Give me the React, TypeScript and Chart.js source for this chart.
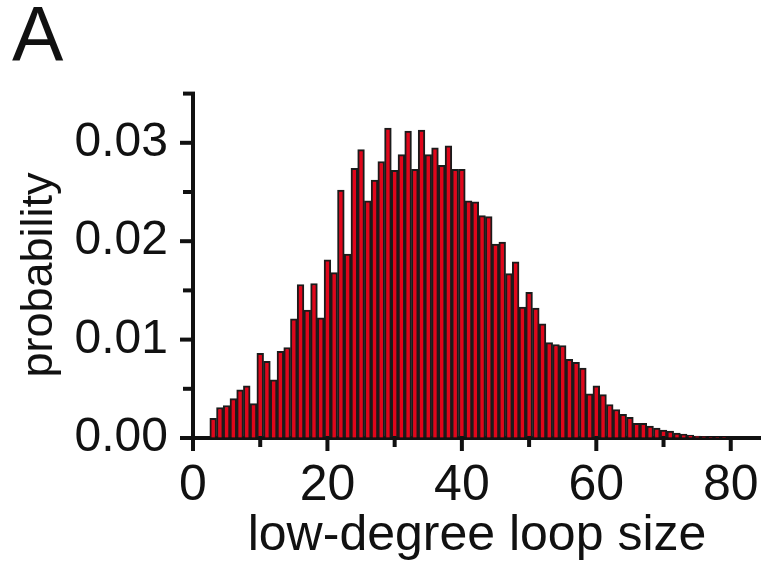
import React, { useEffect, useRef } from 'react';
import { Chart, registerables } from 'chart.js';

Chart.register(...registerables);

// ---- data ----
const loopSizes = [
  3, 4, 5, 6, 7, 8, 9, 10, 11, 12, 13, 14, 15, 16, 17, 18, 19, 20, 21, 22,
  23, 24, 25, 26, 27, 28, 29, 30, 31, 32, 33, 34, 35, 36, 37, 38, 39, 40, 41, 42,
  43, 44, 45, 46, 47, 48, 49, 50, 51, 52, 53, 54, 55, 56, 57, 58, 59, 60, 61, 62,
  63, 64, 65, 66, 67, 68, 69, 70, 71, 72, 73, 74, 75, 76, 77, 78, 79, 80,
];

const probabilities = [
  0.0020, 0.0031, 0.0033, 0.0040, 0.0049, 0.0053, 0.0035, 0.0086, 0.0078, 0.0059,
  0.0088, 0.0092, 0.0121, 0.0156, 0.0130, 0.0157, 0.0122, 0.0181, 0.0168, 0.0252,
  0.0187, 0.0274, 0.0293, 0.0241, 0.0262, 0.0281, 0.0315, 0.0272, 0.0288, 0.0312,
  0.0273, 0.0313, 0.0288, 0.0295, 0.0277, 0.0297, 0.0273, 0.0273, 0.0241, 0.0240,
  0.0226, 0.0225, 0.0197, 0.0199, 0.0167, 0.0179, 0.0133, 0.0148, 0.0132, 0.0116,
  0.0097, 0.0095, 0.0094, 0.0080, 0.0077, 0.0071, 0.0045, 0.0053, 0.0044, 0.0034,
  0.0029, 0.0024, 0.0021, 0.0015, 0.0015, 0.0012, 0.0010, 0.0008, 0.0007, 0.0005,
  0.0004, 0.0003, 0.0002, 0.00015, 0.0001, 0.00007, 0.00004, 0.00002,
];

const xMajorTicks = [0, 20, 40, 60, 80];
const yMajorTicks = [0, 0.01, 0.02, 0.03];
const xTitle = 'low-degree loop size';
const yTitle = 'probability';
const panelLabel = 'A';

const INK = '#111111';
const FONT = '"Liberation Sans", Arial, sans-serif';

const isMajor = (v: number, list: number[]) => list.some((m) => Math.abs(m - v) < 1e-9);

const axisDecor = {
  id: 'axisDecor',
  afterDraw(chart: any) {
    const { ctx, chartArea } = chart;
    const xs = chart.scales.x;
    const ys = chart.scales.y;
    const base = chartArea.bottom;
    const left = chartArea.left;
    ctx.save();
    ctx.strokeStyle = INK;
    ctx.lineWidth = 4;
    ctx.lineCap = 'butt';
    xs.ticks.forEach((t: any) => {
      const p = xs.getPixelForValue(t.value);
      const len = isMajor(t.value, xMajorTicks) ? 13 : 9;
      ctx.beginPath();
      ctx.moveTo(p, base - 2);
      ctx.lineTo(p, base + len);
      ctx.stroke();
    });
    ys.ticks.forEach((t: any) => {
      const p = ys.getPixelForValue(t.value);
      const len = isMajor(t.value, yMajorTicks) ? 13 : 10;
      ctx.beginPath();
      ctx.moveTo(left + 2, p);
      ctx.lineTo(left - len, p);
      ctx.stroke();
    });
    ctx.fillStyle = INK;
    ctx.font = `77px ${FONT}`;
    ctx.textBaseline = 'alphabetic';
    ctx.textAlign = 'left';
    ctx.fillText(panelLabel, 12, 61);
    // y-axis title
    ctx.save();
    ctx.translate(40, 275);
    ctx.rotate(-Math.PI / 2);
    ctx.font = `45px ${FONT}`;
    ctx.textAlign = 'center';
    ctx.textBaseline = 'middle';
    ctx.fillText(yTitle, 0, 0);
    ctx.restore();
    ctx.restore();
  },
};

export default function App() {
  const canvasRef = useRef<HTMLCanvasElement | null>(null);

  useEffect(() => {
    document.body.style.margin = '0';
    const canvas = canvasRef.current;
    if (!canvas) return;
    const chart = new Chart(canvas, {
      type: 'bar',
      data: {
        datasets: [
          {
            data: loopSizes.map((x, i) => ({ x, y: probabilities[i] })),
            backgroundColor: '#e0061b',
            borderColor: '#1b1b1b',
            borderWidth: 2,
            barPercentage: 1,
            categoryPercentage: 1,
          },
        ],
      },
      options: {
        animation: false,
        responsive: true,
        maintainAspectRatio: false,
        layout: { padding: { top: 93.6, left: 0, right: 0, bottom: 0 } },
        plugins: {
          legend: { display: false },
          tooltip: { enabled: false },
          title: { display: false },
        },
        scales: {
          x: {
            type: 'linear',
            min: 0,
            max: 84.5,
            offset: false,
            afterFit: (s: any) => {
              s.height = 130;
              s.paddingLeft = 0;
              s.paddingRight = 0;
            },
            border: { display: true, color: INK, width: 4 },
            grid: {
              display: true,
              offset: false,
              drawOnChartArea: false,
              drawTicks: true,
              tickLength: 12,
              tickColor: 'rgba(0,0,0,0)',
            },
            ticks: {
              stepSize: 10,
              includeBounds: false,
              autoSkip: false,
              maxRotation: 0,
              padding: 6,
              color: INK,
              font: { family: FONT, size: 50 },
              callback: (v: any) => (isMajor(Number(v), xMajorTicks) ? String(v) : ''),
            },
            title: {
              display: true,
              text: xTitle,
              color: INK,
              font: { family: FONT, size: 50 },
              padding: { top: 0, bottom: 2 },
            },
          },
          y: {
            type: 'linear',
            min: 0,
            max: 0.035,
            afterFit: (s: any) => {
              s.width = 193;
              s.paddingTop = 0;
              s.paddingBottom = 0;
            },
            border: { display: true, color: INK, width: 4 },
            grid: {
              display: true,
              drawOnChartArea: false,
              drawTicks: true,
              tickLength: 12,
              tickColor: 'rgba(0,0,0,0)',
            },
            ticks: {
              stepSize: 0.005,
              autoSkip: false,
              padding: 13,
              color: INK,
              font: { family: FONT, size: 48 },
              callback: (v: any) =>
                isMajor(Number(v), yMajorTicks) ? Number(v).toFixed(2) : '',
            },
            title: { display: false },
          },
        },
      },
      plugins: [axisDecor],
    } as any);
    return () => chart.destroy();
  }, []);

  return (
    <div style={{ position: 'relative', width: 761, height: 568, background: '#fff' }}>
      <canvas ref={canvasRef} />
    </div>
  );
}
